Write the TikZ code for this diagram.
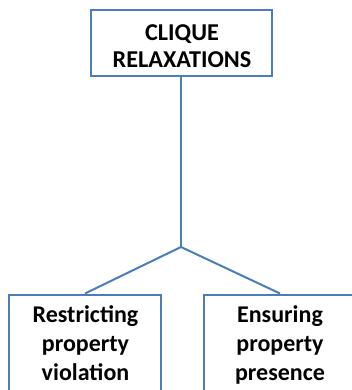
\documentclass[tikz,border=0pt]{standalone}
\usepackage{fontspec}
\setmainfont{Carlito}
\definecolor{edgeblue}{HTML}{4A7EBB}
\begin{document}
\begin{tikzpicture}[x=1pt,y=1pt,
  box/.style={draw=edgeblue, line width=2pt, fill=none, inner sep=0pt, rectangle},
  link/.style={draw=edgeblue, line width=2pt},
  caption/.style={anchor=north, inner sep=0pt, align=center, font=\bfseries}]
  \useasboundingbox (0,0) rectangle (352,-390);
  \clip (0,0) rectangle (352,-390);
  % top box
  \node[box, minimum width=181pt, minimum height=66pt] (root) at (181,-43) {};
  \node[caption, font=\bfseries\fontsize{24.2}{27.5}\selectfont] (roottext) at (182,-20)
    {\rule{0pt}{20pt}CLIQUE\\RELAXATIONS};
  % lower boxes, running past the bottom edge
  \node[box, minimum width=152pt, minimum height=126pt] (left) at (85,-357.5) {};
  \node[box, minimum width=152pt, minimum height=126pt] (right) at (280,-357.5) {};
  \node[caption, font=\bfseries\fontsize{24}{28.7}\selectfont] (lefttext) at (85.5,-302.7)
    {\rule{0pt}{20pt}Restricting\\property\\violation};
  \node[caption, font=\bfseries\fontsize{24}{28.7}\selectfont] (righttext) at (280,-302.7)
    {\rule{0pt}{20pt}Ensuring\\property\\presence};
  % tree connectors
  \coordinate (fork) at (181,-247);
  \draw[link] (root.south) -- (fork);
  \draw[link] (fork) -- (left.north);
  \draw[link] (fork) -- (right.north);
\end{tikzpicture}
\end{document}
